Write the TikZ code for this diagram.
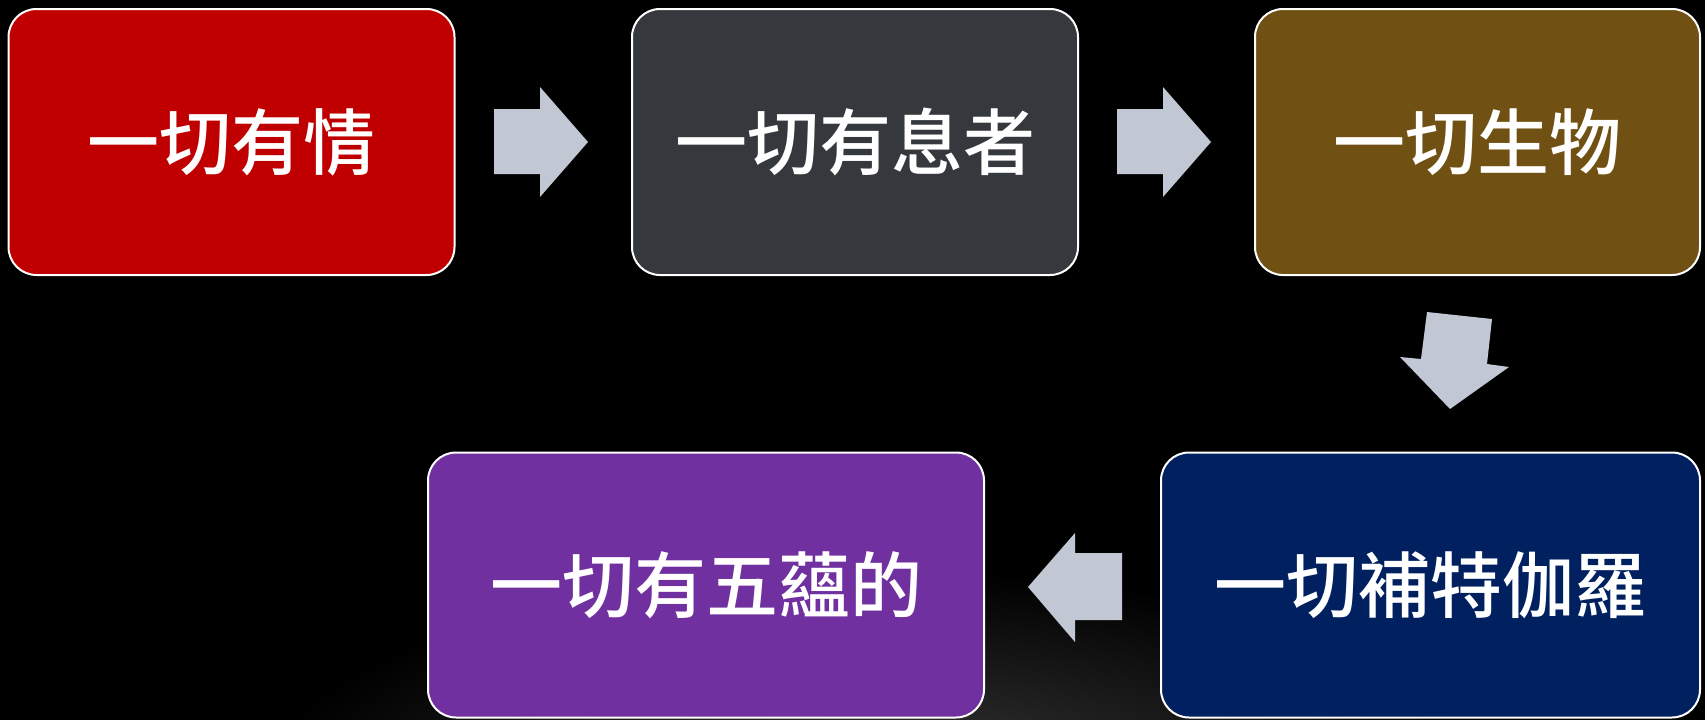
\documentclass[tikz,border=0pt]{standalone}
\usepackage{fontspec}
\newfontfamily\cjk{Noto Sans CJK TC}[BoldFont={Noto Sans CJK TC Medium}]
\usetikzlibrary{shapes.arrows}
\definecolor{cred}{HTML}{C00000}
\definecolor{cgray}{HTML}{35383D}
\definecolor{cbrown}{HTML}{715113}
\definecolor{cnavy}{HTML}{002060}
\definecolor{cpurple}{HTML}{7030A0}
\definecolor{carrow}{HTML}{C2C8D3}
\definecolor{glow}{HTML}{3A3A3A}
\tikzset{
  box/.style={draw=white, line width=2pt, rounded corners=28pt, inner sep=0pt,
    text=white, font=\cjk\bfseries\fontsize{72}{80}\selectfont},
  bigarrow/.style={fill=carrow, draw=none}
}
\begin{document}
\begin{tikzpicture}[x=1pt,y=-1pt]
\fill[black] (0,0) rectangle (1705,720);
\begin{scope}
\clip (0,0) rectangle (1705,720);
\fill[inner color=glow, outer color=black] (880,790) ellipse (620 and 220);
\end{scope}
\useasboundingbox (0,0) rectangle (1705,720);
% boxes
\node[box, fill=cred, minimum width=446pt, minimum height=266pt] (b1) at (231.5,142) {一切有情};
\node[box, fill=cgray, minimum width=446pt, minimum height=266pt] (b2) at (855,142) {一切有息者};
\node[box, fill=cbrown, minimum width=445pt, minimum height=266pt] (b3) at (1477.5,142) {一切生物};
\node[box, fill=cnavy, minimum width=539pt, minimum height=265pt] (b4) at (1430.5,585) {一切補特伽羅};
\node[box, fill=cpurple, minimum width=556pt, minimum height=265pt] (b5) at (706,585) {一切有五蘊的};
% arrows
\fill[bigarrow] (494,109) -- (540,109) -- (540,87) -- (588,142) -- (540,197) -- (540,174) -- (494,174) -- cycle;
\fill[bigarrow] (1117,109) -- (1163,109) -- (1163,87) -- (1211,142) -- (1163,197) -- (1163,174) -- (1117,174) -- cycle;
\fill[bigarrow] (1427,312) -- (1492,319) -- (1487,364) -- (1509,367) -- (1450,409) -- (1400,357) -- (1421,359) -- cycle;
\fill[bigarrow] (1122,553) -- (1075,553) -- (1075,533) -- (1028,587) -- (1075,642) -- (1075,620) -- (1122,620) -- cycle;
\end{tikzpicture}
\end{document}
